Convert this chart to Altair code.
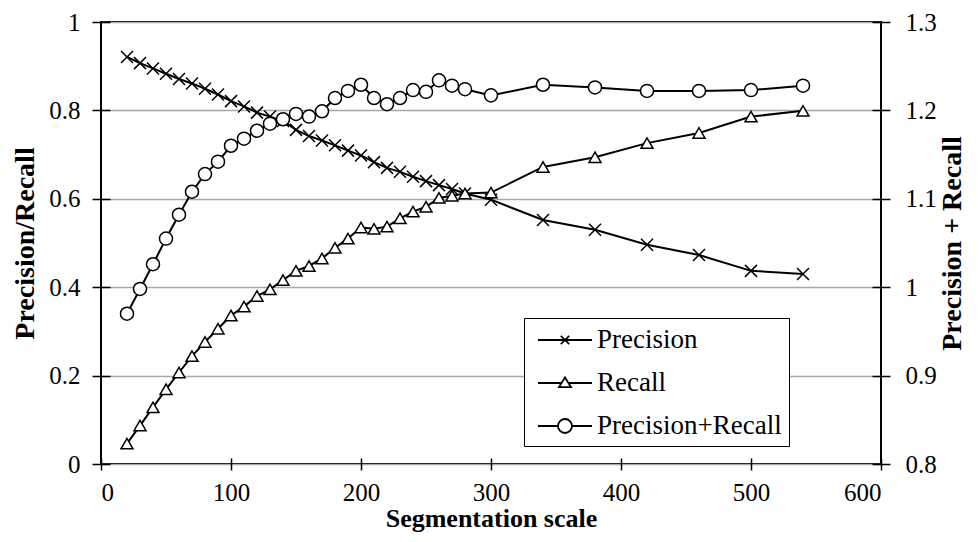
import altair as alt
import pandas as pd

# ---------------- data ----------------
seg_scale = [20, 30, 40, 50, 60, 70, 80, 90, 100, 110, 120, 130, 140, 150, 160, 170,
             180, 190, 200, 210, 220, 230, 240, 250, 260, 270, 280, 300, 340, 380,
             420, 460, 500, 540]

precision = [0.921, 0.907, 0.895, 0.883, 0.871, 0.861, 0.849, 0.836, 0.821, 0.809,
             0.795, 0.786, 0.776, 0.756, 0.742, 0.732, 0.721, 0.709, 0.698, 0.683,
             0.670, 0.661, 0.650, 0.640, 0.631, 0.622, 0.612, 0.598, 0.552, 0.530,
             0.496, 0.473, 0.437, 0.430]

recall = [0.046, 0.087, 0.128, 0.169, 0.207, 0.244, 0.276, 0.306, 0.336, 0.356,
          0.380, 0.395, 0.416, 0.437, 0.448, 0.465, 0.489, 0.510, 0.535, 0.532,
          0.537, 0.556, 0.571, 0.582, 0.602, 0.607, 0.612, 0.614, 0.672, 0.694,
          0.726, 0.749, 0.786, 0.799]

prec_plus_recall = [0.970, 0.998, 1.026, 1.055, 1.082, 1.108, 1.128, 1.142, 1.160, 1.168,
                    1.177, 1.185, 1.190, 1.196, 1.193, 1.199, 1.214, 1.222, 1.229, 1.214,
                    1.207, 1.214, 1.223, 1.221, 1.234, 1.228, 1.224, 1.217, 1.229, 1.226,
                    1.222, 1.222, 1.223, 1.228]

series_names = ["Precision", "Recall", "Precision+Recall"]
x_ticks = [0, 100, 200, 300, 400, 500, 600]
left_ticks = [0, 0.2, 0.4, 0.6, 0.8, 1]
right_ticks = [0.8, 0.9, 1.0, 1.1, 1.2, 1.3]

# ---------------- tables ----------------
left_df = pd.DataFrame({
    "scale": seg_scale * 2,
    "value": precision + recall,
    "series": ["Precision"] * len(seg_scale) + ["Recall"] * len(seg_scale),
})
right_df = pd.DataFrame({
    "scale": seg_scale,
    "value": prec_plus_recall,
    "series": ["Precision+Recall"] * len(seg_scale),
})

FONT = "Liberation Serif"

# symbol paths
cross_path = "M-1,-1L1,1M-1,1L1,-1"
legend_paths = [
    "M-0.571,0H3.286M1.057,-0.3L1.657,0.3M1.057,0.3L1.657,-0.3",
    "M-0.571,0H1.111M1.603,0H3.286M1.357,-0.4L1.787,0.3L0.927,0.3Z",
    "M-0.571,0H0.857M1.857,0H3.286M1.857,0A0.5,0.5,0,1,1,0.857,0A0.5,0.5,0,1,1,1.857,0Z",
]

x_enc = alt.X(
    "scale:Q",
    scale=alt.Scale(domain=[0, 600], nice=False),
    axis=alt.Axis(values=x_ticks, title="Segmentation scale", offset=-6, tickSize=12,
                  labelPadding=10, titlePadding=0, grid=False, titleFontSize=26),
)

y_left = alt.Y(
    "value:Q",
    scale=alt.Scale(domain=[0, 1], nice=False),
    axis=alt.Axis(values=left_ticks, format="~g", title="Precision/Recall", orient="left",
                  offset=-9, tickSize=18, labelPadding=12, titlePadding=9,
                  grid=True, gridColor="#a8a8a8", gridWidth=1.6, titleFontSize=28),
)

y_right = alt.Y(
    "value:Q",
    scale=alt.Scale(domain=[0.8, 1.3], nice=False),
    axis=alt.Axis(values=right_ticks, format="~g", title="Precision + Recall", orient="right",
                  offset=-9, tickSize=18, labelPadding=15, titlePadding=2, titleAngle=270,
                  titleBaseline="top", grid=False, titleFontSize=28),
)

left_base = alt.Chart(left_df).encode(x=x_enc, y=y_left)
left_lines = left_base.mark_line(color="black", strokeWidth=2).encode(detail="series:N")
left_points = left_base.mark_point(
    filled=True, fill="white", stroke="black", strokeWidth=1.5, size=144, opacity=1
).encode(
    shape=alt.Shape("series:N",
                    scale=alt.Scale(domain=["Precision", "Recall"], range=[cross_path, "triangle-up"]),
                    legend=None)
)
left_group = alt.layer(left_lines, left_points)

right_base = alt.Chart(right_df).encode(x=x_enc, y=y_right)
right_line = right_base.mark_line(color="black", strokeWidth=2)
right_points = right_base.mark_point(
    filled=True, fill="white", stroke="black", strokeWidth=1.5, size=170, opacity=1
).encode(
    shape=alt.Shape("series:N",
                    scale=alt.Scale(domain=["Precision+Recall"], range=["circle"]),
                    legend=None)
)
right_group = alt.layer(right_line, right_points)

legend_layer = alt.Chart(left_df).transform_filter("false").mark_point(
    filled=False, color="black", strokeWidth=1.8, size=784, opacity=1
).encode(
    shape=alt.Shape(
        "series:N",
        scale=alt.Scale(domain=series_names, range=legend_paths),
        legend=alt.Legend(
            title=None, orient="none", legendX=423, legendY=296,
            labelFont=FONT, labelFontSize=27, labelColor="black", labelOffset=36,
            labelLimit=400,
            strokeColor="black", fillColor="white", padding=7, rowPadding=15,
            symbolSize=784, symbolStrokeWidth=1.8, symbolStrokeColor="black",
        ),
    )
)

chart = alt.layer(left_group, right_group, legend_layer).resolve_scale(
    y="independent", shape="independent"
).properties(
    width=780, height=442,
    autosize=alt.AutoSizeParams(type="none"),
    padding={"left": 93, "top": 14, "right": 90, "bottom": 70},
    background="white",
).configure_view(
    stroke="black", strokeWidth=2
).configure_axis(
    domain=False, tickColor="black", tickWidth=1.5,
    labelFont=FONT, labelFontSize=25, labelColor="black",
    titleFont=FONT, titleFontWeight="bold", titleColor="black",
)

chart.save("out.html", embed_options={"renderer": "svg", "actions": False})
